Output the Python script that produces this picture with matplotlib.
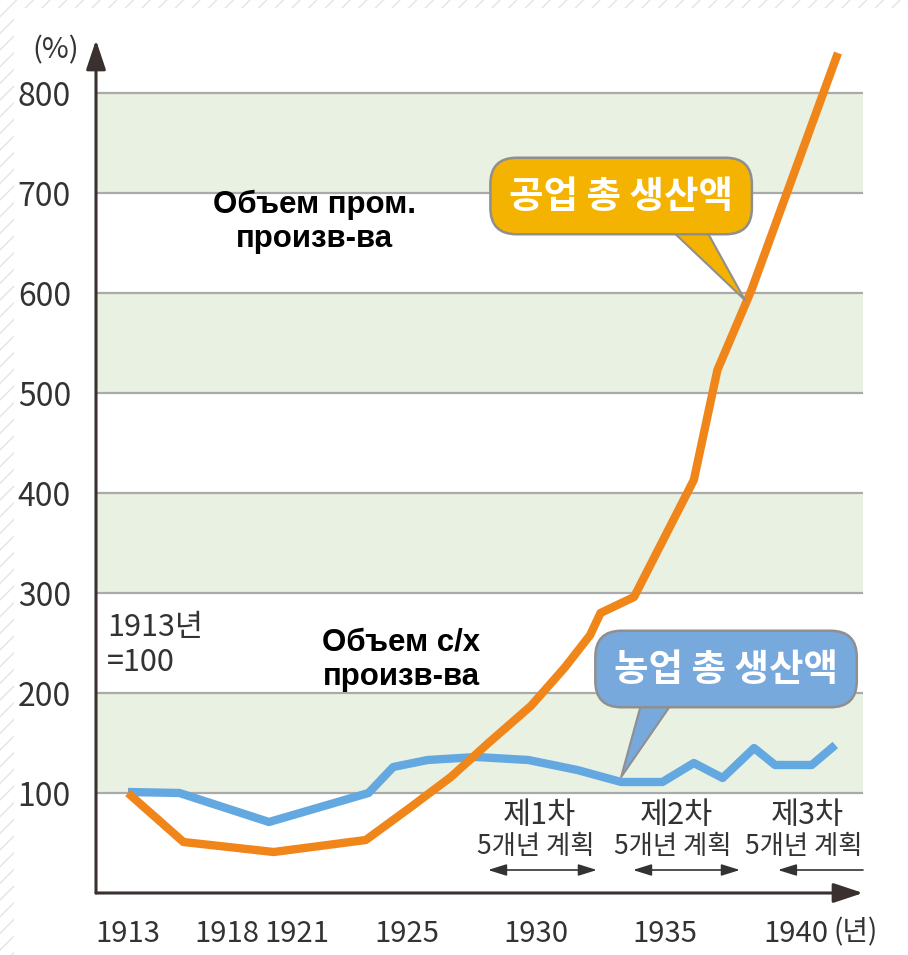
import numpy as np
import matplotlib
matplotlib.use('Agg')
from matplotlib import pyplot as plt
from matplotlib.patches import Rectangle

# x axis years and where they sit on the drawing (the axis is not linear)
tick_years = [1913, 1918, 1921, 1925, 1930, 1935, 1940]
tick_labels = ['1913', '1918', '1921', '1925', '1930', '1935', '1940']
tick_pos = [128, 227, 297, 407, 536, 665, 796]

y_ticks = [100, 200, 300, 400, 500, 600, 700, 800]
green_bands = [(100, 200), (300, 400), (500, 600), (700, 800)]

# industrial output (1913 = 100)
ind_years = [1913, 1915.8, 1920, 1923.5, 1925.1, 1926.7, 1928.2, 1929.8, 1931.1,
             1932.1, 1932.5, 1933.8, 1936.1, 1937.0, 1938.3, 1941.6]
ind_values = [100, 51, 41, 53, 85, 116, 151, 187, 225, 258, 280, 296, 413, 523, 603, 840]

# agricultural output (1913 = 100)
agr_years = [1913, 1915.6, 1919.8, 1923.6, 1924.5, 1925.8, 1927.7, 1929.7, 1931.6,
             1933.3, 1934.9, 1936.1, 1937.2, 1938.4, 1939.2, 1940.6, 1941.5]
agr_values = [101, 100, 71, 100, 126, 133, 136, 133, 123, 111, 111, 130, 115, 145, 128, 128, 148]

# five-year plans: label, text x, arrow start, arrow end
plan_labels = ['제1차', '제2차', '제3차']
plan_text_x = [1930.15, 1935.45, 1940.45]
plan_start = [1928.14, 1933.76, 1939.31]
plan_end = [1932.36, 1937.86, None]

NUM_FONT = ['Noto Sans CJK KR', 'DejaVu Sans']
KR_FONT = ['Noto Sans CJK KR', 'DejaVu Sans']
TXT = '#333333'


def fwd(x):
    x = np.asarray(x, float)
    y = np.interp(x, tick_years, tick_pos)
    y = np.where(x < 1913, 128 + (x - 1913) * 19.8, y)
    y = np.where(x > 1940, 796 + (x - 1940) * 26.2, y)
    return y


def inv(p):
    p = np.asarray(p, float)
    x = np.interp(p, tick_pos, tick_years)
    x = np.where(p < 128, 1913 + (p - 128) / 19.8, x)
    x = np.where(p > 796, 1940 + (p - 796) / 26.2, x)
    return x


fig = plt.figure(figsize=(9.08, 9.55), dpi=100)
fig.patch.set_facecolor('white')

# faint striped margin
for r in [(0, 0, 14 / 908, 1), (0, 1 - 8 / 955, 1, 8 / 955)]:
    fig.patches.append(Rectangle(r[:2], r[2], r[3], transform=fig.transFigure,
                                 facecolor='white', edgecolor='#e4e4e4', hatch='//', lw=0))

ax = fig.add_axes([96 / 908, 62 / 955, 767 / 908, 853 / 955])
ax.set_xscale('function', functions=(fwd, inv))
ax.set_xlim(float(inv(96)), float(inv(863)))
ax.set_ylim(0, 853)
for s in ax.spines.values():
    s.set_visible(False)
ax.set_facecolor('white')

for lo, hi in green_bands:
    ax.axhspan(lo, hi, color='#e9f1e2', lw=0, zorder=0)
for v in y_ticks:
    ax.axhline(v, color='#aaaaaa', lw=1.6, zorder=1)

ax.plot(agr_years, agr_values, color='#63a8e0', lw=6, zorder=3, solid_capstyle='butt')
ax.plot(ind_years, ind_values, color='#f0851a', lw=6, zorder=4, solid_capstyle='butt')

# axis arrows
ax.annotate('', xy=(0, 1), xytext=(0, 0), xycoords='axes fraction',
            arrowprops=dict(arrowstyle='-|>,head_width=0.3,head_length=0.9', color='#3a3030',
                            lw=2.2, shrinkA=0, shrinkB=0, mutation_scale=20))
ax.annotate('', xy=(1, 0), xytext=(0, 0), xycoords='axes fraction',
            arrowprops=dict(arrowstyle='-|>,head_width=0.3,head_length=0.9', color='#3a3030',
                            lw=2.2, shrinkA=0, shrinkB=0, mutation_scale=20))

ax.set_yticks(y_ticks)
ax.set_yticklabels([str(v) for v in y_ticks], family=NUM_FONT, fontsize=23, color=TXT)
ax.set_xticks(tick_years)
ax.set_xticklabels(tick_labels, family=NUM_FONT, fontsize=21, color=TXT)
ax.tick_params(axis='y', length=0, pad=18)
ax.tick_params(axis='x', length=0, pad=19)

ax.text(float(inv(856)), -39, '(년)', family=KR_FONT, fontsize=20, color=TXT,
        ha='center', va='center')
ax.text(float(inv(56)), 843, '(%)', family=NUM_FONT, fontsize=21, color=TXT,
        ha='center', va='center')
ax.text(1911.94, 248, '1913년\n=100', family=NUM_FONT, fontsize=22, color=TXT,
        ha='left', va='center', linespacing=1.2)

# russian labels
ax.text(1921.65, 671, 'Объем пром.\nпроизв-ва', family='Liberation Sans', fontweight='bold',
        fontsize=22.5, ha='center', va='center', linespacing=1.2, zorder=6)
ax.text(1924.8, 233, 'Объем с/х\nпроизв-ва', family='Liberation Sans', fontweight='bold',
        fontsize=22.5, ha='center', va='center', linespacing=1.2, zorder=6)

# speech bubbles (tail starts inside the box so its base is hidden)
ax.annotate('공업 총 생산액', xy=(1938.05, 593), xytext=(1933.3, 697),
            ha='center', va='center', fontsize=27, fontweight='bold', color='white',
            family=KR_FONT, zorder=7,
            bbox=dict(boxstyle='round,pad=0.5,rounding_size=0.7', fc='#f4b300', ec='#8f8f8f', lw=1.8),
            arrowprops=dict(arrowstyle='wedge,tail_width=1.0,shrink_factor=0.5', fc='#f4b300',
                            ec='#8f8f8f', lw=1.5, relpos=(0.72, 0.3), patchA=None,
                            shrinkA=0, shrinkB=0))
ax.annotate('농업 총 생산액', xy=(1933.3, 116), xytext=(1937.33, 224),
            ha='center', va='center', fontsize=27, fontweight='bold', color='white',
            family=KR_FONT, zorder=7,
            bbox=dict(boxstyle='round,pad=0.5,rounding_size=0.7', fc='#78a9dc', ec='#8f8f8f', lw=1.8),
            arrowprops=dict(arrowstyle='wedge,tail_width=1.0,shrink_factor=0.5', fc='#78a9dc',
                            ec='#8f8f8f', lw=1.5, relpos=(0.24, 0.3), patchA=None,
                            shrinkA=0, shrinkB=0))

# five-year plans
for lab, tx, a, b in zip(plan_labels, plan_text_x, plan_start, plan_end):
    ax.text(tx, 78, lab, family=KR_FONT, fontsize=22, color=TXT, ha='center', va='center')
    ax.text(tx - 0.15, 47, '5개년 계획', family=KR_FONT, fontsize=19, color=TXT,
            ha='center', va='center')
    if b is not None:
        ax.annotate('', xy=(b, 23), xytext=(a, 23),
                    arrowprops=dict(arrowstyle='<|-|>,head_width=0.25,head_length=0.8',
                                    color='#333333', lw=1.2, shrinkA=0, shrinkB=0, mutation_scale=14))
    else:
        ax.annotate('', xy=(a, 23), xytext=(ax.get_xlim()[1], 23),
                    arrowprops=dict(arrowstyle='-|>,head_width=0.25,head_length=0.8',
                                    color='#333333', lw=1.2, shrinkA=0, shrinkB=0, mutation_scale=14))

fig.savefig('out.png', dpi=100)
